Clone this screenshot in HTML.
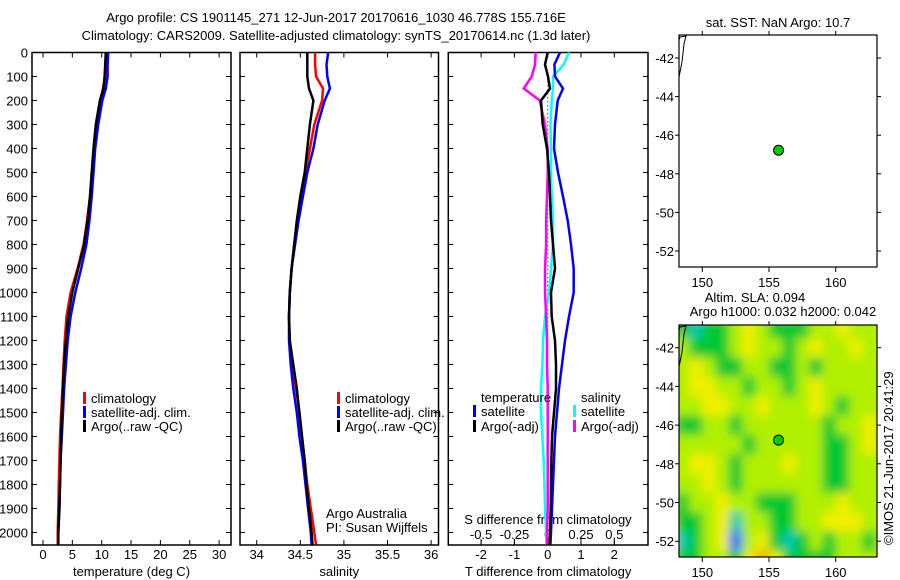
<!DOCTYPE html>
<html><head><meta charset="utf-8"><style>
html,body{margin:0;padding:0;background:#fff;}
svg{display:block;font-family:"Liberation Sans",sans-serif;font-size:13px;}
</style></head><body>
<svg id="fig" width="900" height="580" viewBox="0 0 900 580" xmlns="http://www.w3.org/2000/svg">
<defs>
<filter id="blur" x="0" y="0" width="100%" height="100%"><feGaussianBlur stdDeviation="5"/></filter>
<clipPath id="mapclip"><rect x="679" y="325" width="198" height="232"/></clipPath>
</defs>
<g>
<text x="336" y="22" text-anchor="middle">Argo profile: CS 1901145_271 12-Jun-2017 20170616_1030 46.778S 155.716E</text>
<text x="336" y="40" text-anchor="middle">Climatology: CARS2009. Satellite-adjusted climatology: synTS_20170614.nc (1.3d later)</text>
</g>
<g id="layer"></g>
</svg>
<script>
// ---------- data ----------
const depths = [0,50,100,150,200,300,400,500,600,700,800,900,1000,1100,1200,1300,1400,1500,1600,1700,1800,1900,2000,2050];
const tempArgo = [10.7,10.6,10.5,10.3,9.7,9.0,8.6,8.3,8.0,7.6,7.0,6.0,5.0,4.3,3.9,3.6,3.4,3.2,3.1,3.0,2.9,2.8,2.6,2.6];
const tempClim = [10.8,10.7,10.6,10.2,9.8,9.1,8.7,8.4,8.0,7.5,6.9,5.9,4.7,4.0,3.7,3.5,3.3,3.1,2.9,2.8,2.7,2.6,2.5,2.5];
const tempSat  = [11.1,11.0,11.0,10.7,10.1,9.4,8.9,8.6,8.3,7.9,7.4,6.5,5.5,4.7,4.2,3.9,3.6,3.4,3.2,3.0,2.9,2.8,2.6,2.6];
const salArgo = [34.58,34.58,34.58,34.60,34.65,34.61,34.58,34.55,34.50,34.46,34.43,34.40,34.38,34.37,34.38,34.42,34.46,34.49,34.52,34.55,34.57,34.60,34.63,34.64];
const salClim = [34.67,34.67,34.68,34.76,34.75,34.66,34.61,34.56,34.51,34.47,34.43,34.40,34.38,34.37,34.38,34.41,34.45,34.49,34.52,34.55,34.58,34.62,34.66,34.68];
const salSat  = [34.82,34.80,34.81,34.84,34.78,34.70,34.65,34.58,34.53,34.48,34.44,34.40,34.38,34.37,34.37,34.39,34.42,34.46,34.49,34.53,34.56,34.59,34.62,34.63];
const dTempArgo = [0,-0.08,0.01,0.07,-0.2,-0.15,-0.02,0.04,0.07,0.1,0.16,0.22,0.1,0.12,0.22,0.25,0.25,0.19,0.13,0.11,0.1,0.09,0.07,0.06];
const dTempSat  = [0.37,0.2,0.22,0.46,0.3,0.22,0.19,0.31,0.46,0.6,0.7,0.78,0.78,0.64,0.52,0.43,0.34,0.28,0.22,0.19,0.16,0.13,0.1,0.08];
const dSalSat   = [0.16,0.12,0.04,0.04,0.03,0.02,0.025,0.025,0.03,0.04,0.04,0.025,0.01,-0.02,-0.035,-0.04,-0.05,-0.05,-0.04,-0.03,-0.025,-0.02,-0.012,-0.01];
const dSalArgo  = [-0.09,-0.095,-0.12,-0.18,-0.06,-0.02,0.0,0.0,-0.005,-0.012,-0.012,-0.02,-0.02,-0.012,-0.005,-0.005,0.0,0.0,0.0,0.0,0.0,0.0,-0.005,-0.005];
const depthTicks = [0,100,200,300,400,500,600,700,800,900,1000,1100,1200,1300,1400,1500,1600,1700,1800,1900,2000];
const tempTicks = [0,5,10,15,20,25,30];
const salTicks = [34,34.5,35,35.5,36];
const salTickLabels = ["34","34.5","35","35.5","36"];
const dTTicks = [-2,-1,0,1,2];
const dSTicks = [-0.5,-0.25,0,0.25,0.5];
const dSTickLabels = ["-0.5","-0.25","0","0.25","0.5"];
const lonTicks = [150,155,160];
const latTicks = [-42,-44,-46,-48,-50,-52];
const argoLon = 155.716, argoLat = -46.778;
const slaLats = [-41,-42,-43,-44,-45,-46,-47,-48,-49,-50,-51,-52,-53];
const slaLons = [148.5,149.5,150.5,151.5,152.5,153.5,154.5,155.5,156.5,157.5,158.5,159.5,160.5,161.5,162.5];
const slaGrid = [
[2,1,2,2,3,4,3,2,2,2,3,3,4,3,3],
[3,2,2,2,3,4,3,3,2,3,4,3,3,4,3],
[3,4,3,2,2,3,3,2,2,3,2,3,3,3,3],
[3,4,4,3,3,2,3,3,2,3,4,3,3,3,3],
[3,3,4,4,3,3,4,3,3,3,4,3,2,3,3],
[2,2,3,3,2,3,3,3,3,3,3,2,3,3,4],
[3,3,3,3,3,2,3,3,3,3,3,2,2,3,4],
[3,4,4,3,2,3,3,3,4,3,3,2,2,3,3],
[3,3,4,3,2,3,3,3,3,3,3,2,2,3,3],
[2,3,3,4,3,3,2,2,2,3,3,3,4,3,3],
[2,2,3,4,1,3,3,2,2,3,3,4,4,4,3],
[1,2,3,4,0,3,4,2,1,2,3,2,3,3,2],
[2,2,3,3,2,4,5,4,2,2,2,2,3,3,3]];
const slaColors = ["#1070ff","#00c8b0","#00c830","#b0f000","#f0f000","#f5a800"];

// ---------- helpers ----------
const NS="http://www.w3.org/2000/svg";
const layer=document.getElementById('layer');
function mk(tag,attrs,parent){const e=document.createElementNS(NS,tag);for(const k in attrs)e.setAttribute(k,attrs[k]);(parent||layer).appendChild(e);return e;}
function txt(x,y,s,anchor,parent){const t=mk('text',{x:x,y:y,'text-anchor':anchor||'start'},parent);t.textContent=s;return t;}
const yD = d => 52.5 + d*0.24;
const xT = t => 43 + t*5.87;
const xS = s => 256.7 + (s-34)*87.2;
const xDT = v => 547.7 + v*33.3;
const xDS = v => 547.7 + v*133.2;
const mapX = lon => 702.3 + (lon-150)*13.34;
const mapYTop = lat => 58 + (-42-lat)*19.3;
const mapYBot = lat => 347.7 + (-42-lat)*19.35;

function frame(x0,x1,name){
  const r=mk('rect',{x:x0,y:52.5,width:x1-x0,height:545-52.5,fill:'none',stroke:'#000','stroke-width':1.5});
  
  
}
function line(xs,xf,color,name,extra){
  const pts=depths.map((d,i)=>xf(xs[i]).toFixed(1)+','+yD(d).toFixed(1)).join(' ');
  const p=mk('polyline',Object.assign({points:pts,fill:'none',stroke:color,'stroke-width':2.5,'stroke-linejoin':'miter'},extra||{}));
  
  
}
function xAxis(ticks,labels,xf,x0,x1,labelY,title,name){
  const g=mk('g',{});
  
  
  ticks.forEach((t,i)=>{const x=xf(t);mk('line',{x1:x,x2:x,y1:545,y2:540,stroke:'#000'},g);mk('line',{x1:x,x2:x,y1:52.5,y2:57.5,stroke:'#000'},g);txt(x,labelY,labels[i],'middle',g);});
  if(title) txt((x0+x1)/2,576,title,'middle',g);
}
function depthTickMarks(x0,x1){
  depthTicks.forEach(d=>{const y=yD(d);mk('line',{x1:x0,x2:x0+5,y1:y,y2:y,stroke:'#000'});mk('line',{x1:x1,x2:x1-5,y1:y,y2:y,stroke:'#000'});});
}
function legendEntry(x,y,color,label,name,parent){
  const g=mk('g',{},parent);
  
  
  mk('rect',{x:x,y:y-11,width:3,height:12,fill:color},g);
  txt(x+8,y,label,'start',g);
}

// ---------- depth axis ----------
const dAx=mk('g',{});


depthTicks.forEach(d=>txt(28,yD(d)+5,String(d),'end',dAx));

// ---------- panel 1: temperature ----------
frame(32,231,'temperature-panel');
depthTickMarks(32,231);
xAxis(tempTicks,tempTicks.map(String),xT,32,231,559,'temperature (deg C)','temperature-x-axis');
line(tempClim,xT,'#ff0000','temp-climatology-line');
line(tempSat,xT,'#0000ff','temp-satellite-line');
line(tempArgo,xT,'#000000','temp-argo-line');
const lg1=mk('g',{});
legendEntry(83,403,'#ff0000','climatology','legend-climatology',lg1);
legendEntry(83,417,'#0000ff','satellite-adj. clim.','legend-satellite',lg1);
legendEntry(83,431,'#000000','Argo(..raw -QC)','legend-argo',lg1);

// ---------- panel 2: salinity ----------
frame(240,438.5,'salinity-panel');
depthTickMarks(240,438.5);
xAxis(salTicks,salTickLabels,xS,240,438.5,559,'salinity','salinity-x-axis');
line(salClim,xS,'#ff0000','sal-climatology-line');
line(salSat,xS,'#0000ff','sal-satellite-line');
line(salArgo,xS,'#000000','sal-argo-line');
const lg2=mk('g',{});
legendEntry(337,403,'#ff0000','climatology','legend-climatology',lg2);
legendEntry(337,417,'#0000ff','satellite-adj. clim.','legend-satellite',lg2);
legendEntry(337,431,'#000000','Argo(..raw -QC)','legend-argo',lg2);
const cr=mk('g',{});
txt(326,518,'Argo Australia','start',cr);txt(326,532,'PI: Susan Wijffels','start',cr);

// ---------- panel 3: differences ----------
frame(448.3,648,'difference-panel');
depthTickMarks(448.3,648);
xAxis(dTTicks,dTTicks.map(String),xDT,448.3,648,559,'T difference from climatology','t-difference-x-axis');
const sAx=mk('g',{});
dSTicks.forEach((t,i)=>{const x=xDS(t);mk('line',{x1:x,x2:x,y1:545,y2:539,stroke:'#000'},sAx);txt(x,539,dSTickLabels[i],'middle',sAx);});
txt(548,524,'S difference from climatology','middle',sAx);
const zl=mk('line',{x1:xDT(0),x2:xDT(0),y1:yD(120),y2:545,stroke:'#000','stroke-dasharray':'1,3'});

line(dSalSat,xDS,'#00ffff','dsal-satellite-line');
line(dTempSat,xDT,'#0000ff','dtemp-satellite-line');
line(dSalArgo,xDS,'#ff00ff','dsal-argo-line');
line(dTempArgo,xDT,'#000000','dtemp-argo-line');
const lg3=mk('g',{});
txt(481,402,'temperature','start',lg3);
legendEntry(473,416,'#0000ff','satellite','legend-t-satellite',lg3);
legendEntry(473,431,'#000000','Argo(-adj)','legend-t-argo',lg3);
txt(581,402,'salinity','start',lg3);
legendEntry(573,416,'#00ffff','satellite','legend-s-satellite',lg3);
legendEntry(573,431,'#ff00ff','Argo(-adj)','legend-s-argo',lg3);

// ---------- maps ----------
function mapAxes(y0,yf,name){
  const g=mk('g',{});
  
  
  mk('rect',{x:679,y:y0,width:198,height:232,fill:'none',stroke:'#000','stroke-width':1.2},g);
  lonTicks.forEach(l=>{const x=mapX(l);mk('line',{x1:x,x2:x,y1:y0+232,y2:y0+237,stroke:'#000'},g);mk('line',{x1:x,x2:x,y1:y0,y2:y0-4,stroke:'#000'},g);txt(x,y0+252,String(l),'middle',g);});
  latTicks.forEach(l=>{const y=yf(l);mk('line',{x1:679,x2:675,y1:y,y2:y,stroke:'#000'},g);mk('line',{x1:877,x2:881,y1:y,y2:y,stroke:'#000'},g);txt(674,y+5,String(l),'end',g);});
}
// top map
const sstT=mk('g',{});
txt(778,27,'sat. SST: NaN Argo: 10.7','middle',sstT);
const coast1=mk('path',{d:'M679,40 L680,37 L686,36 L684,44 L682,62 L679,77',fill:'none',stroke:'#000','stroke-width':1});

mapAxes(35,mapYTop,'sst-map');
const dot1=mk('circle',{cx:mapX(argoLon),cy:mapYTop(argoLat),r:5,fill:'#00cc00',stroke:'#000','stroke-width':1});


// bottom map heatmap
const slaT=mk('g',{});
txt(755,302,'Altim. SLA: 0.094','middle',slaT);
txt(783,316,'Argo h1000: 0.032 h2000: 0.042','middle',slaT);
const hm=mk('g',{'clip-path':'url(#mapclip)'});

const hmb=mk('g',{filter:'url(#blur)'},hm);
mk('rect',{x:650,y:295,width:250,height:285,fill:'#b0f000'},hmb);
slaLats.forEach((lat,r)=>slaLons.forEach((lon,c)=>{
  const cell=mk('rect',{x:mapX(lon-0.5),y:mapYBot(lat+0.5),width:13.6,height:19.6,fill:slaColors[slaGrid[r][c]]},hmb);
  
  
}));
const coast2=mk('path',{d:'M679,330 L680,327 L686,326 L684,334 L682,352 L679,367',fill:'none',stroke:'#000','stroke-width':1});

mapAxes(325,mapYBot,'sla-map');
const dot2=mk('circle',{cx:mapX(argoLon),cy:mapYBot(argoLat),r:5,fill:'#00cc00',stroke:'#000','stroke-width':1});

const cp=mk('text',{x:0,y:0,transform:'translate(893,545) rotate(-90)'});
cp.textContent='©IMOS 21-Jun-2017 20:41:29';

</script>
</body></html>
